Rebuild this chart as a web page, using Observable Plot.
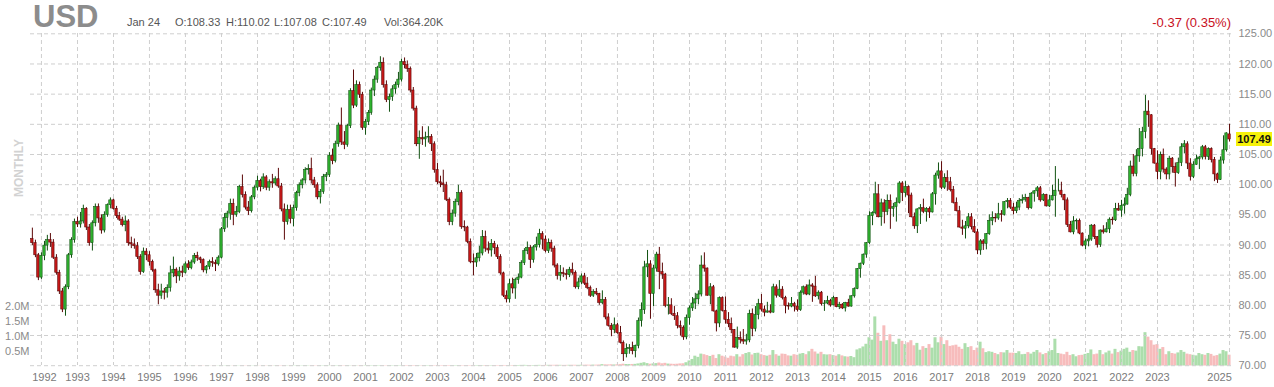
<!DOCTYPE html>
<html><head><meta charset="utf-8">
<script src="https://cdn.jsdelivr.net/npm/d3@7"></script>
<script src="https://cdn.jsdelivr.net/npm/@observablehq/plot@0.6"></script>
<style>
body{margin:0;background:#fff;font-family:"Liberation Sans",Arial,sans-serif;}
#wrap{position:relative;width:1274px;height:387px;overflow:hidden;background:#fff}
#wrap svg{position:absolute;left:0;top:0}
.hdr{position:absolute;white-space:nowrap;line-height:1}
</style></head><body>
<div id="wrap"></div>
<script>
// ---- data: monthly candles Oct 1991 .. Jan 2025 ----
const firstYear = 1991, firstMonth = 9; // October (0-based)
const open = [
91.0,90.3,88.3,
84.6,88.2,89.9,90.8,90.4,87.9,85.4,82.3,79.3,83.0,88.3,90.8,
93.8,93.4,93.9,96.0,92.9,90.3,93.6,96.3,94.4,92.4,95.0,96.6,
97.4,96.0,94.8,94.2,93.3,93.9,90.3,90.1,89.8,88.0,85.5,88.9,
88.3,87.2,85.8,82.5,81.6,82.3,82.1,82.9,85.3,85.9,84.8,85.6,
85.4,86.8,86.2,87.1,88.2,87.8,87.5,85.8,86.4,87.2,87.0,86.8,
87.9,92.6,94.5,95.2,96.8,95.0,95.5,99.6,98.3,96.2,95.6,97.9,
99.5,100.6,99.6,101.2,99.5,100.4,100.2,100.9,99.7,95.9,93.8,95.8,
94.3,96.1,98.6,99.9,100.7,102.4,102.6,100.7,99.9,97.9,98.8,101.3,
101.6,104.8,103.9,106.7,109.8,107.0,106.6,109.7,115.5,113.1,116.5,114.9,
109.4,110.4,111.9,115.6,117.4,119.3,120.2,116.5,114.0,114.5,115.8,116.5,
117.4,120.3,119.8,119.2,115.6,112.6,106.7,107.7,107.5,107.8,107.9,106.7,
102.4,100.4,100.2,99.9,97.5,93.8,95.2,97.1,98.6,93.0,92.9,90.5,
87.2,87.1,87.8,88.6,91.3,89.4,89.1,90.2,89.5,88.0,85.3,81.6,
81.0,83.5,82.8,84.2,84.6,87.0,89.0,89.5,87.5,89.6,90.0,91.8,
90.9,89.0,90.3,89.4,86.6,84.9,85.4,85.2,85.0,85.9,85.4,83.0,
83.8,84.8,83.6,82.9,81.6,82.2,81.9,80.4,80.9,78.0,76.6,75.9,
76.7,75.4,73.8,71.9,72.8,72.9,72.4,73.3,77.4,79.2,86.3,86.8,
81.9,86.1,88.4,85.5,85.1,79.9,80.0,78.6,78.2,76.6,76.3,74.7,
77.9,79.5,80.3,81.0,81.8,86.6,86.1,81.6,83.0,79.0,77.0,81.2,
79.1,77.6,76.9,75.9,73.0,74.6,74.3,74.0,74.2,78.6,76.1,78.4,
80.2,79.3,78.8,79.0,78.8,83.0,81.6,82.6,81.2,79.9,79.8,80.2,
79.8,79.2,82.1,83.0,81.8,83.3,83.1,81.5,82.1,80.2,80.3,80.7,
80.0,81.2,79.7,80.1,79.5,80.4,79.8,81.5,82.7,86.0,86.9,88.4,
90.3,94.8,95.3,98.4,94.6,96.9,95.5,97.3,96.0,96.3,97.0,100.2,
98.6,99.6,98.2,94.6,93.1,95.9,96.1,95.5,96.0,95.4,98.4,101.5,
102.2,99.5,101.1,100.4,99.1,97.0,95.6,92.9,92.7,93.1,94.6,93.0,
92.1,89.1,90.6,90.2,91.8,94.0,94.5,94.4,95.1,95.0,97.1,97.3,
96.2,95.6,96.2,97.3,97.5,97.8,96.1,98.5,98.9,99.4,97.4,98.3,
96.4,97.4,98.1,99.0,99.0,98.3,97.4,93.3,92.1,93.9,94.0,91.9,
89.9,90.6,90.9,93.2,91.3,90.0,92.4,92.1,92.6,94.2,94.1,96.0,
95.7,96.5,96.7,98.3,103.0,101.8,104.7,105.9,108.7,112.1,111.5,105.9,
103.5,102.1,104.9,102.5,101.7,104.3,102.9,101.9,103.6,106.2,106.7,103.5,
101.3,103.3,104.2,104.5,106.2,104.6,105.9,104.1,101.7,100.8,104.0,105.7,
108.33];
const high = [
92.8,90.8,88.6,
88.7,90.6,91.6,91.9,90.9,88.4,85.8,82.8,83.4,88.6,91.2,94.3,
94.6,95.4,96.6,96.2,93.4,94.0,96.8,96.8,95.0,95.5,96.8,97.8,
97.6,96.4,95.4,94.6,94.8,94.2,91.3,91.0,90.4,88.4,89.5,89.4,
88.9,87.5,86.0,83.5,83.5,82.8,83.4,86.5,88.0,86.2,86.3,86.5,
87.2,87.4,87.5,88.6,88.8,88.0,87.7,86.6,87.5,87.9,87.5,88.2,
92.9,95.2,95.6,97.6,97.6,96.4,99.9,101.6,98.8,97.2,98.2,99.8,
101.4,100.9,101.8,101.5,100.8,101.7,101.3,102.7,100.2,96.8,96.6,96.6,
96.6,98.9,100.3,101.0,102.8,103.3,104.4,101.2,100.3,99.2,101.7,102.0,
105.3,105.9,107.2,110.2,112.7,108.8,110.0,115.9,119.0,117.2,117.0,115.3,
110.8,112.3,116.0,118.0,119.6,121.2,121.0,117.2,115.0,116.4,117.0,118.6,
120.8,121.0,120.5,119.5,116.1,113.0,108.9,109.6,108.7,109.6,108.3,107.1,
103.5,101.4,102.4,100.4,97.8,95.8,97.6,99.9,99.0,94.0,93.1,91.0,
88.5,88.6,89.8,92.4,92.3,90.5,90.9,90.6,90.0,88.4,85.5,82.4,
84.3,84.5,84.5,85.2,87.4,89.4,90.5,89.9,89.9,91.3,92.6,92.2,
91.5,91.0,90.8,89.8,86.9,86.6,86.2,85.9,86.3,87.0,85.7,84.5,
85.2,85.3,84.6,83.2,82.6,82.8,82.0,82.4,81.3,78.6,77.0,77.9,
77.0,76.5,74.1,73.6,73.5,73.9,73.4,77.9,80.4,87.3,89.1,87.4,
86.6,88.8,89.6,87.0,85.3,81.3,81.1,79.8,78.8,77.4,76.6,78.4,
79.9,81.3,82.0,82.4,88.2,88.7,86.2,83.6,83.3,79.2,81.4,81.4,
81.4,78.8,77.9,76.0,76.4,75.6,76.0,75.2,79.2,79.4,79.8,81.0,
81.8,79.9,80.5,80.1,83.5,83.4,84.1,83.1,81.5,80.4,81.3,80.5,
80.9,82.4,83.2,83.4,84.2,83.6,84.8,82.4,82.3,80.8,81.5,81.0,
81.5,81.3,80.5,80.3,80.5,81.0,81.6,82.9,86.1,87.0,88.5,90.4,
95.5,95.5,100.4,100.0,97.6,97.5,98.3,98.3,96.9,97.8,100.5,100.5,
100.5,99.8,98.6,95.3,96.0,96.7,97.6,96.2,96.3,98.7,101.9,103.6,
103.8,101.8,102.3,101.2,99.7,97.8,96.4,94.1,93.9,95.2,95.2,94.2,
92.6,90.9,90.9,91.9,95.0,95.5,95.2,96.9,95.7,97.2,97.7,97.7,
96.9,97.1,97.7,98.3,98.4,97.9,98.7,99.0,99.7,99.7,98.5,98.4,
98.2,99.9,103.0,100.9,100.4,98.4,97.8,93.9,94.7,94.3,94.3,92.0,
91.0,91.6,93.4,93.4,91.4,92.5,93.2,93.7,94.5,94.6,96.9,96.9,
97.4,97.8,99.4,103.9,105.0,105.8,109.3,109.5,114.8,113.9,111.6,106.0,
105.6,105.4,105.9,102.8,104.7,104.5,103.6,104.4,106.8,107.3,107.1,104.3,
103.8,104.9,104.7,106.5,106.5,106.1,106.1,104.5,101.9,104.6,108.1,108.6,
110.02];
const low = [
89.9,87.9,84.1,
84.3,87.4,89.0,89.6,87.6,85.0,81.8,78.8,78.2,82.6,87.8,90.3,
92.9,92.8,93.5,92.4,89.8,89.0,93.0,93.6,91.8,92.0,94.6,96.0,
95.8,94.4,93.9,93.0,92.2,89.8,89.4,89.3,87.6,85.0,85.3,87.4,
86.5,85.5,82.0,80.1,81.0,80.9,81.2,82.2,84.6,83.6,84.0,84.6,
85.2,85.8,85.9,86.8,87.3,86.9,85.4,85.2,85.9,86.3,85.6,86.5,
87.7,92.1,92.8,94.1,93.2,94.6,95.2,97.8,95.8,94.9,95.3,97.5,
99.0,98.8,99.2,99.0,98.9,99.4,99.8,99.4,95.5,90.8,93.3,93.5,
93.0,95.6,98.0,99.3,100.1,101.6,100.1,99.4,97.5,96.8,98.4,100.5,
101.2,103.3,103.6,106.2,106.5,105.8,106.2,109.3,112.6,112.8,114.3,109.0,
108.2,109.8,111.5,114.6,116.8,118.8,116.0,113.6,112.0,113.8,115.0,116.0,
117.0,119.2,118.6,115.2,112.2,106.3,104.2,106.5,106.2,106.9,105.5,101.9,
100.0,99.5,98.7,97.2,93.2,93.2,94.6,96.5,92.6,92.2,90.2,86.9,
84.9,86.3,87.2,88.2,88.8,88.5,88.0,88.4,87.6,85.0,81.3,80.4,
80.4,81.9,81.0,83.5,84.4,86.6,88.4,86.1,87.0,89.0,89.5,89.2,
88.7,88.6,88.8,86.2,84.2,84.0,84.6,84.2,84.6,85.0,82.7,82.6,
83.4,83.3,82.6,81.3,81.3,81.6,80.0,80.1,77.6,76.4,74.8,75.3,
75.2,73.6,70.7,71.3,71.9,71.8,71.3,72.8,76.4,78.5,84.6,77.7,
79.8,85.5,82.6,84.3,79.6,78.4,78.3,77.5,76.1,74.9,74.2,74.3,
76.7,79.0,79.3,80.1,81.4,85.5,81.5,80.1,78.9,75.6,76.3,78.9,
76.9,76.3,75.3,72.9,72.7,73.6,73.5,73.4,73.8,74.8,75.6,77.6,
78.9,78.1,78.7,78.6,78.7,81.2,81.3,80.9,78.6,79.2,79.6,78.9,
78.9,79.0,81.7,81.6,81.6,80.5,81.3,80.9,79.9,79.0,80.1,79.7,
79.9,79.6,79.3,79.3,78.9,79.7,79.7,81.2,82.6,84.5,86.6,87.8,
90.1,93.2,95.0,94.5,93.1,93.5,94.9,92.6,94.6,93.8,96.8,97.2,
97.9,95.2,94.5,92.6,91.9,93.4,95.2,93.8,94.4,95.3,96.6,100.9,
99.2,99.2,98.9,98.8,96.8,95.5,92.8,91.6,91.0,92.7,92.5,91.9,
88.4,88.3,89.1,89.2,91.6,93.2,93.7,94.1,93.8,94.8,96.0,95.9,
95.0,95.2,95.7,96.8,97.1,95.8,95.9,97.1,97.9,97.1,97.2,96.3,
96.2,97.3,94.6,98.8,97.8,95.7,92.9,92.0,91.7,92.5,91.7,89.7,
89.2,89.7,90.6,90.9,89.5,89.6,91.8,92.0,91.9,93.3,93.9,95.6,
94.6,95.1,96.6,98.0,101.3,101.3,103.7,104.6,107.6,109.5,104.9,103.4,
100.8,100.8,101.9,100.8,100.8,101.9,99.6,101.7,103.0,105.1,102.5,100.6,
101.0,103.2,102.5,104.1,104.1,104.0,103.6,100.5,100.2,100.7,103.4,105.4,
107.08];
const close = [
90.3,88.3,84.6,
88.2,89.9,90.8,90.4,87.9,85.4,82.3,79.3,83.0,88.3,90.8,93.8,
93.4,93.9,96.0,92.9,90.3,93.6,96.3,94.4,92.4,95.0,96.6,97.4,
96.0,94.8,94.2,93.3,93.9,90.3,90.1,89.8,88.0,85.5,88.9,88.3,
87.2,85.8,82.5,81.6,82.3,82.1,82.9,85.3,85.9,84.8,85.6,85.4,
86.8,86.2,87.1,88.2,87.8,87.5,85.8,86.4,87.2,87.0,86.8,87.9,
92.6,94.5,95.2,96.8,95.0,95.5,99.6,98.3,96.2,95.6,97.9,99.5,
100.6,99.6,101.2,99.5,100.4,100.2,100.9,99.7,95.9,93.8,95.8,94.3,
96.1,98.6,99.9,100.7,102.4,102.6,100.7,99.9,97.9,98.8,101.3,101.6,
104.8,103.9,106.7,109.8,107.0,106.6,109.7,115.5,113.1,116.5,114.9,109.4,
110.4,111.9,115.6,117.4,119.3,120.2,116.5,114.0,114.5,115.8,116.5,117.4,
120.3,119.8,119.2,115.6,112.6,106.7,107.7,107.5,107.8,107.9,106.7,102.4,
100.4,100.2,99.9,97.5,93.8,95.2,97.1,98.6,93.0,92.9,90.5,87.2,
87.1,87.8,88.6,91.3,89.4,89.1,90.2,89.5,88.0,85.3,81.6,81.0,
83.5,82.8,84.2,84.6,87.0,89.0,89.5,87.5,89.6,90.0,91.8,90.9,
89.0,90.3,89.4,86.6,84.9,85.4,85.2,85.0,85.9,85.4,83.0,83.8,
84.8,83.6,82.9,81.6,82.2,81.9,80.4,80.9,78.0,76.6,75.9,76.7,
75.4,73.8,71.9,72.8,72.9,72.4,73.3,77.4,79.2,86.3,86.8,81.9,
86.1,88.4,85.5,85.1,79.9,80.0,78.6,78.2,76.6,76.3,74.7,77.9,
79.5,80.3,81.0,81.8,86.6,86.1,81.6,83.0,79.0,77.0,81.2,79.1,
77.6,76.9,75.9,73.0,74.6,74.3,74.0,74.2,78.6,76.1,78.4,80.2,
79.3,78.8,79.0,78.8,83.0,81.6,82.6,81.2,79.9,79.8,80.2,79.8,
79.2,82.1,83.0,81.8,83.3,83.1,81.5,82.1,80.2,80.3,80.7,80.0,
81.2,79.7,80.1,79.5,80.4,79.8,81.5,82.7,86.0,86.9,88.4,90.3,
94.8,95.3,98.4,94.6,96.9,95.5,97.3,96.0,96.3,97.0,100.2,98.6,
99.6,98.2,94.6,93.1,95.9,96.1,95.5,96.0,95.4,98.4,101.5,102.2,
99.5,101.1,100.4,99.1,97.0,95.6,92.9,92.7,93.1,94.6,93.0,92.1,
89.1,90.6,90.2,91.8,94.0,94.5,94.4,95.1,95.0,97.1,97.3,96.2,
95.6,96.2,97.3,97.5,97.8,96.1,98.5,98.9,99.4,97.4,98.3,96.4,
97.4,98.1,99.0,99.0,98.3,97.4,93.3,92.1,93.9,94.0,91.9,89.9,
90.6,90.9,93.2,91.3,90.0,92.4,92.1,92.6,94.2,94.1,96.0,95.7,
96.5,96.7,98.3,103.0,101.8,104.7,105.9,108.7,112.1,111.5,105.9,103.5,
102.1,104.9,102.5,101.7,104.3,102.9,101.9,103.6,106.2,106.7,103.5,101.3,
103.3,104.2,104.5,106.2,104.6,105.9,104.1,101.7,100.8,104.0,105.7,108.5,
107.49];
// volume in thousands of contracts
const volumeK = [
0,0,0,
0,0,0,0,0,0,0,0,0,0,0,0,
0,0,0,0,0,0,0,0,0,0,0,0,
0,0,0,0,0,0,0,0,0,0,0,0,
4,5,6,5,4,6,5,4,5,6,5,4,
6,5,7,6,5,6,7,5,6,5,6,7,
6,7,8,6,7,8,7,6,8,7,6,8,
8,7,9,8,10,8,9,12,10,9,8,9,
9,10,8,9,11,10,9,10,8,9,10,11,
10,9,11,10,12,10,11,9,12,10,11,10,
11,10,12,11,13,12,11,10,12,11,10,12,
12,11,13,12,14,15,12,11,13,12,11,12,
13,12,14,13,15,13,12,14,13,12,14,13,
14,13,15,14,16,14,13,15,14,16,18,15,
15,16,18,17,20,22,18,16,17,19,21,18,
20,22,24,23,26,22,20,21,23,25,24,22,
24,26,28,27,30,28,32,45,38,36,40,35,
40,45,60,50,48,52,55,70,90,110,80,60,
70,80,100,75,90,65,60,55,60,70,75,110,
170,220,330,290,400,380,350,320,360,250,380,330,
300,260,330,310,380,300,380,420,450,370,420,430,
380,350,330,360,520,380,330,400,390,340,330,380,
360,400,420,380,480,560,470,400,460,380,370,380,
350,330,380,340,310,300,320,280,540,580,640,730,
950,870,1650,1100,830,1350,850,1050,800,720,900,830,
720,780,850,680,760,530,650,590,720,600,950,780,
970,720,850,660,680,700,630,560,750,620,650,520,
600,800,580,450,480,460,420,380,450,440,520,430,
430,420,480,380,390,450,400,460,520,440,380,420,
480,520,900,420,400,380,460,350,380,310,350,360,
390,420,540,380,400,520,380,440,500,400,560,450,
500,560,600,460,520,500,650,640,1120,970,850,700,
720,560,620,380,480,420,400,440,520,460,400,380,
360,340,420,380,360,420,390,330,350,400,520,480,
364];
const priceTicks = [70,75,80,85,90,95,100,105,110,115,120,125];
const volumeTicks = [500000,1000000,1500000,2000000];
const gridYears = d3.range(1992, 2026);
const labelYears = d3.range(1993, 2024);
const title = "USD";
const headerDate = "Jan 24";
const headerOHLC = ["O:108.33","H:110.02","L:107.08","C:107.49"];
const headerVol = "Vol:364.20K";
const change = "-0.37 (0.35%)";
const periodLabel = "MONTHLY";

// ---- table ----
const bars = close.map((c, i) => ({
  date: new Date(Date.UTC(firstYear, firstMonth + i, 1)),
  open: open[i], high: high[i], low: low[i], close: c,
  volume: volumeK[i] * 1000,
  up: c >= open[i]
}));
const yearDate = y => new Date(Date.UTC(y, 0, 1));
const last = bars[bars.length - 1];

const W = 1274, H = 387;
const FONT = '"Liberation Sans", Arial, Helvetica, sans-serif';
const xOpts = {type: "utc", domain: [new Date(Date.UTC(1991, 8, 12)), new Date(Date.UTC(2025, 0, 31))], range: [30, 1232]};
const frame = {width: W, height: H, marginLeft: 30, marginRight: 42, marginTop: 33, marginBottom: 22};

const GREEN = "#2fb32f", GREEN_D = "#125212", RED = "#c71818", RED_D = "#5c0808";

// volume layer (bottom)
const volChart = Plot.plot({
  ...frame,
  x: {...xOpts, axis: null},
  y: {domain: [0, 2000000], range: [365.5, 306], label: null},
  color: {type: "identity"},
  style: {background: "white", fontFamily: FONT, fontSize: "11px", color: "#8a8a8a", overflow: "visible"},
  marks: [
    Plot.rect(bars, {
      x1: d => d3.utcHour.offset(d.date, -366), x2: d => d3.utcHour.offset(d.date, 366),
      y1: 0, y2: "volume",
      fill: d => d.up ? "#acdeac" : "#f7bcbc"
    }),
    Plot.axisY(volumeTicks, {anchor: "left", tickSize: 0, tickPadding: 1, label: null,
      tickFormat: d => (d / 1e6).toFixed(1) + "M", fill: "#8a8a8a", fontSize: 11})
  ]
});

// price layer (top)
const priceChart = Plot.plot({
  ...frame,
  x: {...xOpts, axis: null},
  y: {domain: [70, 125], range: [365.2, 33.3], label: null},
  color: {type: "identity"},
  style: {background: "transparent", fontFamily: FONT, fontSize: "11px", color: "#8a8a8a", overflow: "visible"},
  marks: [
    Plot.gridY(priceTicks, {stroke: "#cfcfcf", strokeOpacity: 1, strokeDasharray: "4,3"}),
    Plot.gridX(gridYears.map(yearDate), {stroke: "#cfcfcf", strokeOpacity: 1, strokeDasharray: "4,3"}),
    Plot.axisY(priceTicks, {anchor: "right", tickSize: 0, tickPadding: 6, label: null,
      tickFormat: d => d.toFixed(2), fill: "#8a8a8a", fontSize: 11}),
    Plot.text(labelYears, {x: yearDate, text: d => String(d), frameAnchor: "bottom", lineAnchor: "top", dy: 8, fill: "#7a7a7a", fontSize: 11}),
    Plot.text([1992], {x: yearDate, text: d => String(d), frameAnchor: "bottom", lineAnchor: "top", dy: 8, dx: 3, fill: "#7a7a7a", fontSize: 11}),
    Plot.text([2025], {x: yearDate, text: d => String(d), frameAnchor: "bottom", lineAnchor: "top", dy: 8, dx: -10, fill: "#7a7a7a", fontSize: 11}),
    Plot.ruleX(bars, {x: "date", y1: "low", y2: "high", stroke: d => d.up ? GREEN_D : RED_D, strokeWidth: 1}),
    Plot.rect(bars, {
      x1: d => d3.utcDay.offset(d.date, -12), x2: d => d3.utcDay.offset(d.date, 12),
      y1: "open", y2: "close",
      fill: d => d.up ? GREEN : RED, stroke: d => d.up ? GREEN_D : RED_D, strokeWidth: 0.6
    })
  ]
});

const wrap = document.getElementById("wrap");
wrap.appendChild(volChart);
wrap.appendChild(priceChart);

function addDiv(text, css) {
  const d = document.createElement("div");
  d.className = "hdr";
  d.textContent = text;
  d.setAttribute("style", css);
  wrap.appendChild(d);
  return d;
}
addDiv(title, `left:33px;top:1px;font-size:31px;font-weight:bold;color:#8c8c8c;font-family:${FONT}`);
addDiv(headerDate, `left:127px;top:17px;font-size:11px;color:#555;font-family:${FONT}`);
const ohlcX = [175, 226, 274, 322];
headerOHLC.forEach((t, i) => addDiv(t, `left:${ohlcX[i]}px;top:17px;font-size:11px;color:#555;font-family:${FONT}`));
addDiv(headerVol, `left:384px;top:17px;font-size:11px;color:#555;font-family:${FONT}`);
addDiv(change, `right:${1274 - 1231}px;top:16px;font-size:13px;color:#c8101e;font-family:${FONT}`);
addDiv(periodLabel, `left:19px;top:168px;font-size:12px;font-weight:bold;color:#d2d2d2;font-family:${FONT};transform:translate(-50%,-50%) rotate(-90deg);transform-origin:center`);

// last price tag
const yPos = priceChart.scale("y").apply(last.close);
addDiv(last.close.toFixed(2), `left:1236px;top:${(yPos - 7).toFixed(1)}px;width:36px;height:14px;line-height:14px;text-align:center;background:#f6f20a;font-size:11px;font-weight:bold;color:#111;font-family:${FONT}`);
</script>
</body></html>
